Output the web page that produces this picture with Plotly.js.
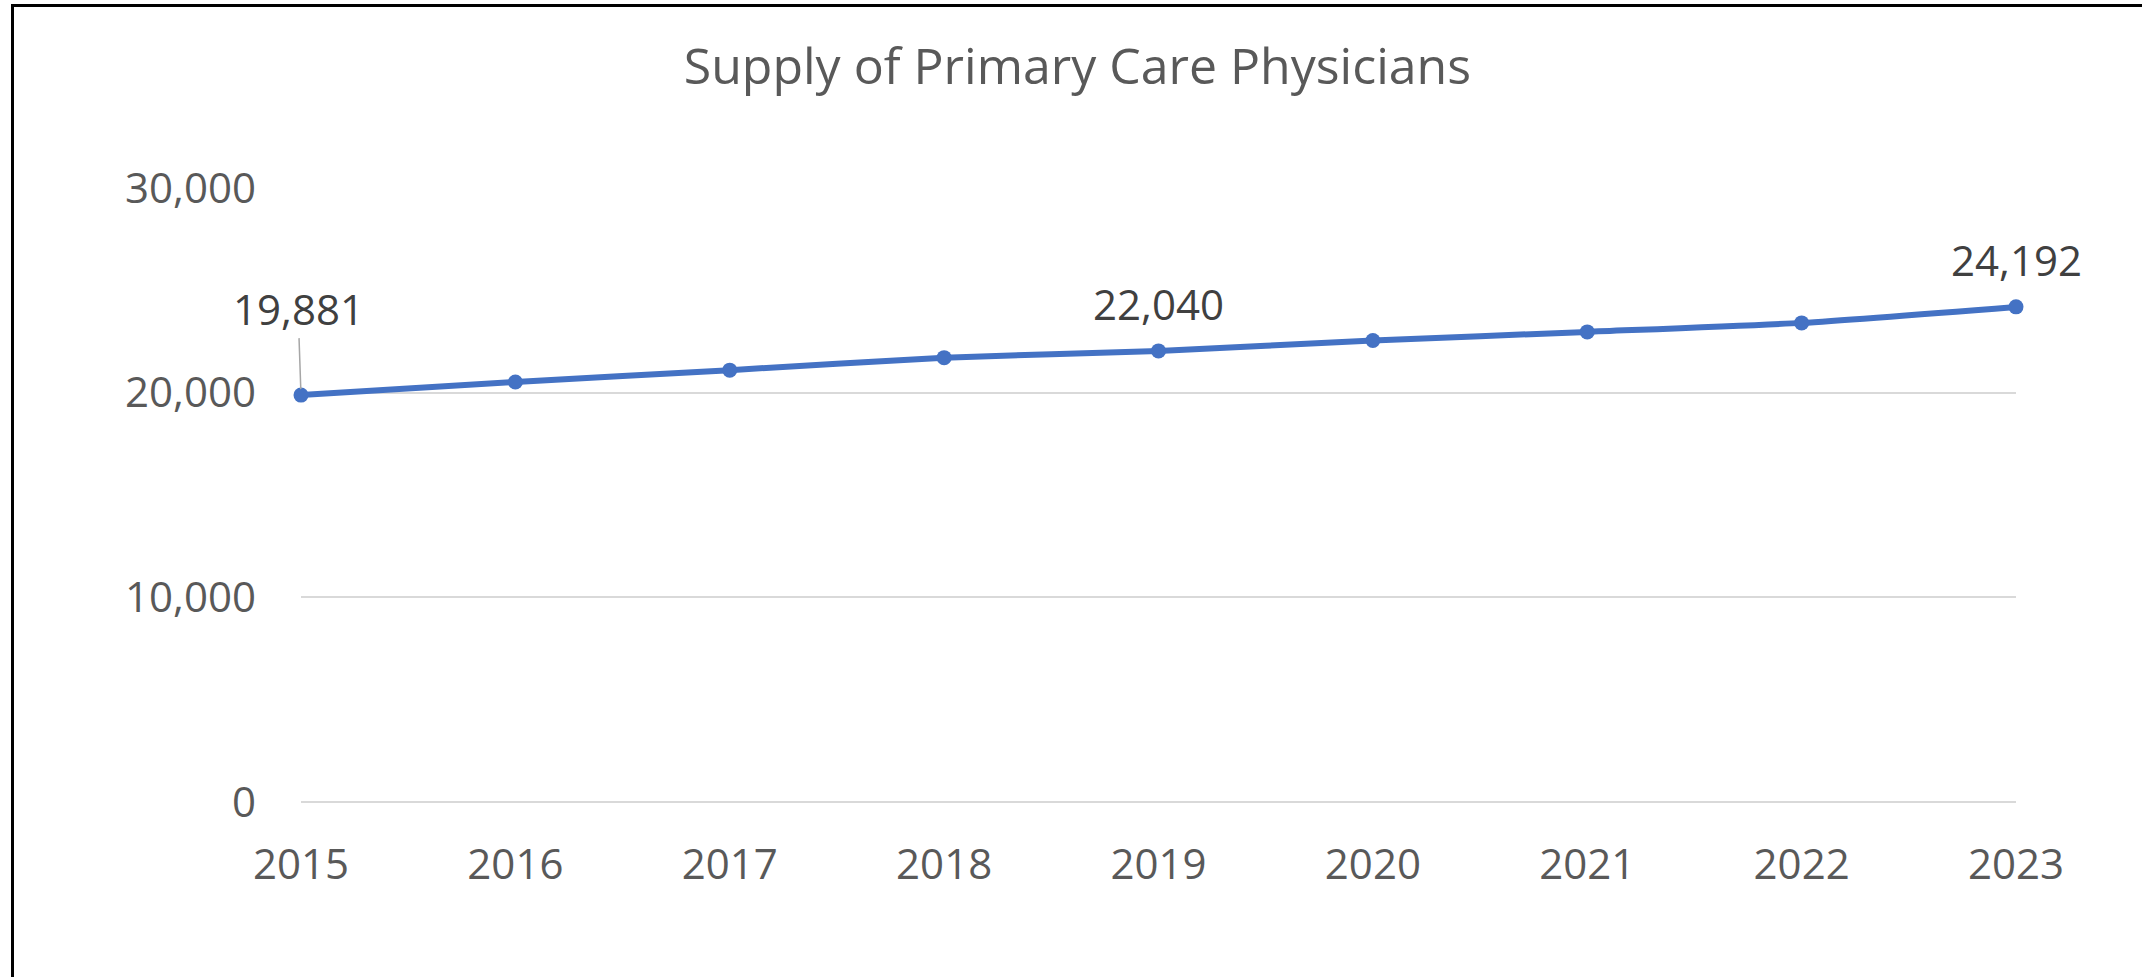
<!DOCTYPE html>
<html>
<head>
<meta charset="utf-8">
<script src="https://cdn.plot.ly/plotly-3.0.1.min.js"></script>
<style>
  html, body { margin: 0; padding: 0; background: #fff; }
  #wrap { position: relative; width: 2142px; height: 977px; }
  #chart { width: 2142px; height: 977px; }
  #frame { position: absolute; left: 11px; top: 4px; right: 0; bottom: 0;
           border-left: 3px solid #000; border-top: 3px solid #000; pointer-events: none; }
</style>
</head>
<body>
<div id="wrap">
  <div id="chart"></div>
  <div id="frame"></div>
</div>
<script>
const years = ['2015', '2016', '2017', '2018', '2019', '2020', '2021', '2022', '2023'];
const physicians = [19881, 20520, 21100, 21710, 22040, 22550, 22970, 23410, 24192];
const labeledYears = ['2015', '2019', '2023'];
const yTicks = [0, 10000, 20000, 30000];
const yTickText = ['0', '10,000', '20,000', '30,000'];

const FONT = 'Open Sans, Noto Sans, sans-serif';
const fmt = v => v.toLocaleString('en-US');

const trace = {
  x: years,
  y: physicians,
  type: 'scatter',
  mode: 'lines+markers',
  cliponaxis: false,
  line: { color: '#4472C4', width: 6, shape: 'spline', smoothing: 0.6 },
  marker: { color: '#4472C4', size: 15 },
  hoverinfo: 'skip'
};

const annotations = labeledYears.map(yr => {
  const i = years.indexOf(yr);
  const base = {
    x: i, y: physicians[i], xref: 'x', yref: 'y',
    text: fmt(physicians[i]),
    font: { family: FONT, size: 42, color: '#404040' }
  };
  if (i === 0) {
    return Object.assign(base, {
      showarrow: true, arrowhead: 0, arrowwidth: 1.5, arrowcolor: '#A6A6A6',
      ax: -3, ay: -87, standoff: 6
    });
  }
  return Object.assign(base, { showarrow: false, yshift: 47 });
});

const layout = {
  width: 2142,
  height: 977,
  margin: { l: 301, r: 126, t: 188, b: 175 },
  paper_bgcolor: '#ffffff',
  plot_bgcolor: '#ffffff',
  showlegend: false,
  title: {
    text: 'Supply of Primary Care Physicians',
    font: { family: FONT, size: 50, color: '#595959' },
    xref: 'container', x: 0.503, xanchor: 'center',
    yref: 'container', y: 1 - 66 / 977, yanchor: 'middle'
  },
  xaxis: {
    type: 'category',
    range: [0, years.length - 1],
    showgrid: false,
    zeroline: false,
    showline: false,
    ticks: '',
    ticklabelstandoff: 34,
    tickfont: { family: FONT, size: 42, color: '#595959' },
    fixedrange: true
  },
  yaxis: {
    range: [0, 30000],
    tickvals: yTicks,
    ticktext: yTickText,
    showgrid: true,
    gridcolor: '#D9D9D9',
    gridwidth: 2,
    zeroline: true,
    zerolinecolor: '#D9D9D9',
    zerolinewidth: 2,
    showline: false,
    ticks: '',
    ticklabelstandoff: 44,
    tickfont: { family: FONT, size: 42, color: '#595959' },
    fixedrange: true
  },
  annotations: annotations
};

Plotly.newPlot('chart', [trace], layout, { displayModeBar: false, staticPlot: true });
</script>
</body>
</html>
